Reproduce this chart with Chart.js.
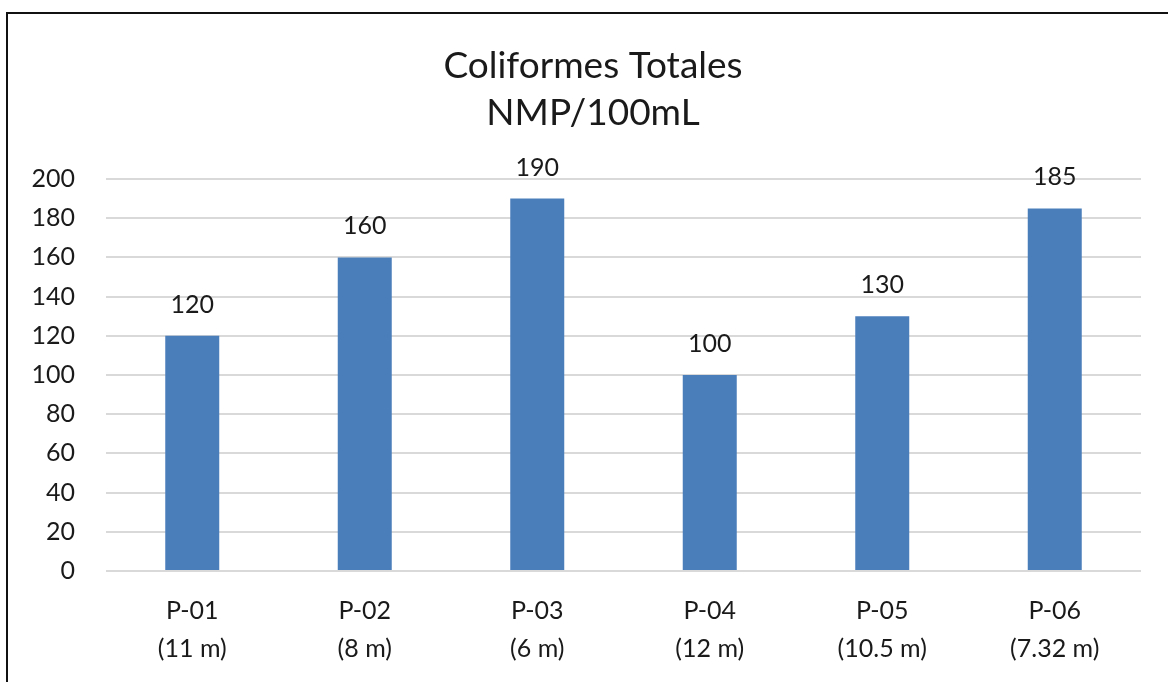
<!DOCTYPE html>
<html>
<head>
<meta charset="utf-8">
<script src="https://cdn.jsdelivr.net/npm/chart.js@4"></script>
<style>
  html, body { margin: 0; padding: 0; background: #fff; overflow: hidden; }
  #wrap { position: relative; width: 1168px; height: 682px; overflow: hidden; }
  #frame { position: absolute; left: 6px; top: 12px; width: 3000px; height: 3000px; border: 2px solid #111; box-sizing: border-box; }
  #c { position: absolute; left: 0; top: 0; }
</style>
</head>
<body>
<div id="wrap">
  <div id="frame"></div>
  <canvas id="c" width="1168" height="682"></canvas>
</div>
<script>
const categories = [["P-01", "(11 m)"], ["P-02", "(8 m)"], ["P-03", "(6 m)"], ["P-04", "(12 m)"], ["P-05", "(10.5 m)"], ["P-06", "(7.32 m)"]];
const coliformes = [120, 160, 190, 100, 130, 185];
const titleLines = ["Coliformes Totales", "NMP/100mL"];
const yTicks = [0, 20, 40, 60, 80, 100, 120, 140, 160, 180, 200];

const FONT = "Lato, 'Open Sans', sans-serif";
const TEXT = "#1a1a1a";

const valueLabels = {
  id: 'valueLabels',
  afterLayout(chart) {
    // centre the title over the whole framed chart box rather than the canvas
    if (chart.titleBlock) { chart.titleBlock.left = 45; }
  },
  afterDatasetsDraw(chart) {
    const ctx = chart.ctx;
    ctx.save();
    ctx.font = "25px " + FONT;
    ctx.fillStyle = TEXT;
    ctx.textAlign = 'center';
    ctx.textBaseline = 'middle';
    chart.getDatasetMeta(0).data.forEach((bar, i) => {
      ctx.fillText(String(coliformes[i]), bar.x, bar.y - 31);
    });
    ctx.restore();
  }
};

new Chart(document.getElementById('c'), {
  type: 'bar',
  data: {
    labels: categories,
    datasets: [{
      data: coliformes,
      backgroundColor: '#4A7EBB',
      borderWidth: 0,
      barPercentage: 0.313,
      categoryPercentage: 1.0
    }]
  },
  options: {
    responsive: false,
    animation: false,
    devicePixelRatio: 1,
    layout: { padding: { left: 0, right: 27, top: 0, bottom: 0 } },
    plugins: {
      legend: { display: false },
      tooltip: { enabled: false },
      title: {
        display: true,
        text: titleLines,
        color: TEXT,
        font: { family: FONT, size: 37, weight: 'normal', lineHeight: 47 / 37 },
        padding: { top: 43, bottom: 42 }
      }
    },
    scales: {
      x: {
        grid: { display: false, drawTicks: false },
        border: { display: false },
        ticks: {
          color: TEXT,
          font: { family: FONT, size: 25, lineHeight: 38 / 25 },
          padding: 21,
          maxRotation: 0,
          autoSkip: false
        },
        afterFit(axis) { axis.height = 111; }
      },
      y: {
        min: 0,
        max: 200,
        afterBuildTicks(axis) { axis.ticks = yTicks.map(v => ({ value: v })); },
        grid: { color: '#d9d9d9', lineWidth: 2, drawTicks: false },
        border: { display: false },
        ticks: {
          color: TEXT,
          font: { family: FONT, size: 25 },
          padding: 31
        },
        afterFit(axis) { axis.width = 106; }
      }
    }
  },
  plugins: [valueLabels]
});
</script>
</body>
</html>
